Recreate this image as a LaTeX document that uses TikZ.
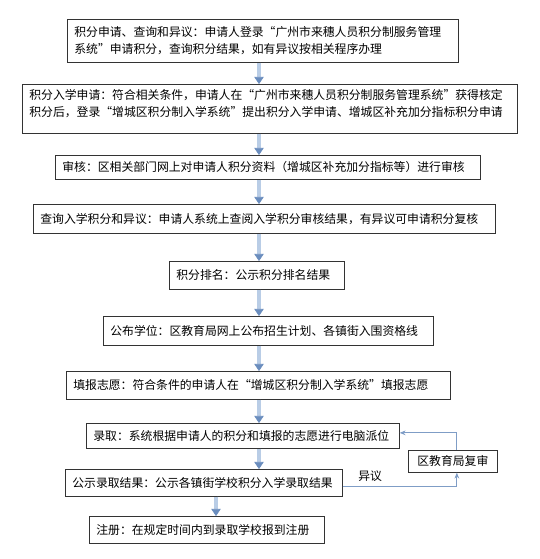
\documentclass[tikz,border=0pt]{standalone}
\usepackage{fontspec}
\newfontfamily\cjk{Noto Sans CJK SC}
\newfontfamily\cjkfw[RawFeature=+fwid]{Noto Sans CJK SC}
\usetikzlibrary{arrows.meta}
\definecolor{edgeblue}{HTML}{6A8DBE}
\definecolor{fillblue}{HTML}{B9CDE6}
\definecolor{lineblue}{HTML}{7F9DC6}
\newdimen\pxu
\pxu=0.03cm
\newcommand{\fwq}[1]{{\cjkfw #1}}
\begin{document}
\begin{tikzpicture}[x=0.03cm,y=-0.03cm,
	flowbox/.style={draw=black!80,line width=0.6pt,anchor=north west,align=left,inner xsep=7\pxu,inner ysep=0pt,font=\cjk\fontsize{10.1}{14.5}\selectfont},
	flowarrow/.style={draw=edgeblue,line width=0.5pt,double=fillblue,double distance=2.6pt,-{Triangle[length=6pt,width=8pt]}},
	backline/.style={draw=lineblue,line width=0.8pt,-{Stealth[length=5pt,width=4pt]}}]
	\newcommand{\mybg}{white}

		\useasboundingbox[fill=\mybg] (0,0) rectangle (540,559);

		\node[flowbox,minimum width=391\pxu,minimum height=43\pxu,text width=377\pxu] (apply) at (67,19)
			{积分申请、查询和异议：申请人登录\fwq{“}广州市来穗人员积分制服务管理\\系统\fwq{”}申请积分，查询积分结果，如有异议按相关程序办理};
		\node[flowbox,minimum width=495\pxu,text width=481\pxu,text height=15.5\pxu,text depth=33.5\pxu] (enrol) at (22,84)
			{积分入学申请：符合相关条件，申请人在\fwq{“}广州市来穗人员积分制服务管理系统\fwq{”}获得核定\\积分后，登录\fwq{“}增城区积分制入学系统\fwq{”}提出积分入学申请、增城区补充加分指标积分申请};
		\node[flowbox,minimum width=425\pxu,minimum height=24\pxu,text width=411\pxu] (audit) at (55,155)
			{审核：区相关部门网上对申请人积分资料（增城区补充加分指标等）进行审核};
		\node[flowbox,minimum width=462\pxu,minimum height=29\pxu,text width=448\pxu] (query) at (33,204)
			{查询入学积分和异议：申请人系统上查阅入学积分审核结果，有异议可申请积分复核};
		\node[flowbox,minimum width=175\pxu,minimum height=28\pxu,text width=161\pxu] (rank) at (169,261)
			{积分排名：公示积分排名结果};
		\node[flowbox,minimum width=330\pxu,minimum height=29\pxu,text width=316\pxu] (seats) at (103,316)
			{公布学位：区教育局网上公布招生计划、各镇街入围资格线};
		\node[flowbox,minimum width=384\pxu,minimum height=28\pxu,text width=370\pxu] (wish) at (66,371)
			{填报志愿：符合条件的申请人在\fwq{“}增城区积分制入学系统\fwq{”}填报志愿};
		\node[flowbox,minimum width=313\pxu,minimum height=25\pxu,text width=299\pxu] (admit) at (86,423)
			{录取：系统根据申请人的积分和填报的志愿进行电脑派位};
		\node[flowbox,align=center,minimum width=89\pxu,minimum height=22\pxu,text width=75\pxu] (review) at (408,450)
			{区教育局复审};
		\node[flowbox,minimum width=277\pxu,minimum height=27\pxu,text width=263\pxu] (publish) at (65,469)
			{公示录取结果：公示各镇街学校积分入学录取结果};
		\node[flowbox,minimum width=235\pxu,minimum height=27\pxu,text width=221\pxu] (register) at (89,516)
			{注册：在规定时间内到录取学校报到注册};

		\coordinate (spine) at (259,0);
		\coordinate (spinelow) at (216,0);
		\foreach \from/\to in {apply/enrol,enrol/audit,audit/query,query/rank,rank/seats,seats/wish,wish/admit,admit/publish}
			\draw[flowarrow] (\from.south -| spine) -- (\to.north -| spine);
		\draw[flowarrow] (publish.south -| spinelow) -- (register.north -| spinelow);

		\draw[backline] ([yshift=-4\pxu]publish.east) -| node[pos=0.12,above=1pt,font=\cjk\fontsize{10.1}{12}\selectfont] (objection) {异议} ([xshift=4\pxu]review.south);
		\draw[backline] ([xshift=4\pxu]review.north) |- ([yshift=3\pxu]admit.east);
	\end{tikzpicture}
\end{document}
